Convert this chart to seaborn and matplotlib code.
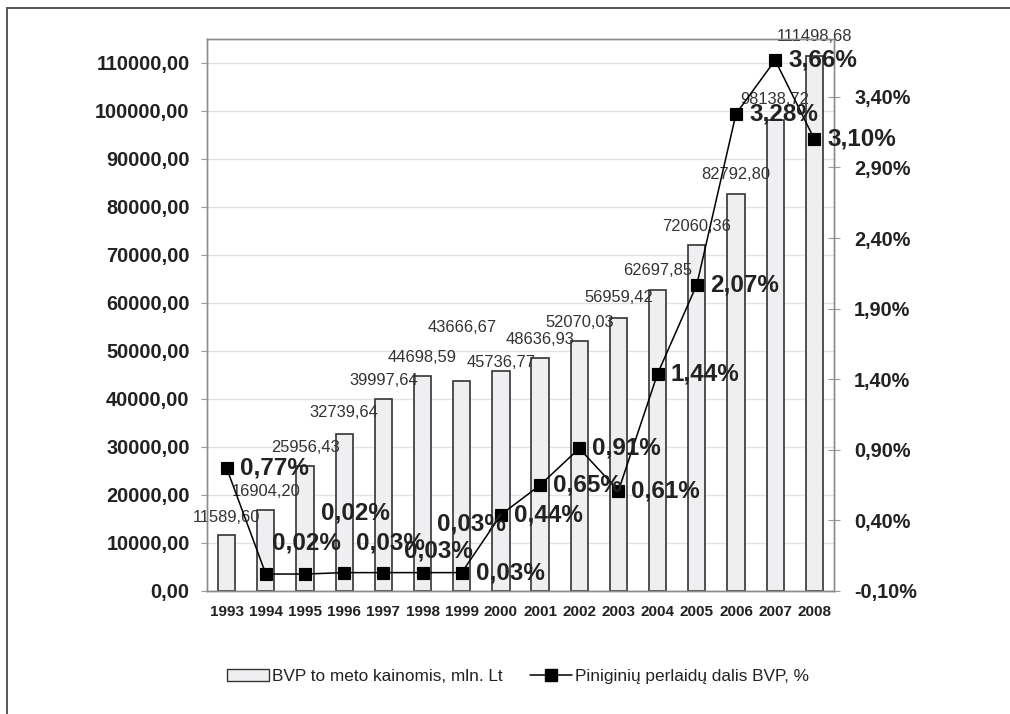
import numpy as np
import pandas as pd
import matplotlib
matplotlib.use("Agg")
import matplotlib.pyplot as plt
from matplotlib import font_manager
from matplotlib.patches import Patch
from matplotlib.lines import Line2D
from matplotlib.ticker import FuncFormatter, FixedLocator
import seaborn as sns

# data
years = [str(y) for y in range(1993, 2009)]
bvp = [11589.60, 16904.20, 25956.43, 32739.64, 39997.64, 44698.59, 43666.67,
       45736.77, 48636.93, 52070.03, 56959.42, 62697.85, 72060.36, 82792.80,
       98138.72, 111498.68]
share = [0.77, 0.02, 0.02, 0.03, 0.03, 0.03, 0.03, 0.44, 0.65, 0.91, 0.61,
         1.44, 2.07, 3.28, 3.66, 3.10]
bar_name = "BVP to meto kainomis, mln. Lt"
line_name = "Piniginių perlaidų dalis BVP, %"

# label placement (pixels), hand-tuned like the original
bar_lab_dy = [18, 18, 19, 21, 18, 19, 54, 9, 18, 19, 20, 20, 19, 19, 20, 19]
pct_lab_dx = [13, 6, 16, 12, 21, 14, 14, 13, 13, 13, 13, 13, 13, 13, 13, 13]
pct_lab_dy = [0, 31, 61, 30, 22, 49, 0, 0, 0, 0, 0, 0, 0, 0, 0, 0]

df = pd.DataFrame({"year": years, "bvp": bvp, "share": share})

sns.set_style("white")
plt.rcParams["font.family"] = ["Liberation Sans", "DejaVu Sans"]

# year labels use a narrow face when one is installed
names = {f.name for f in font_manager.fontManager.ttflist}
narrow_fam = next((n for n in ["Liberation Sans Narrow", "Arial Narrow"] if n in names), None)
if narrow_fam:
    year_fam, year_size = narrow_fam, 13.4
else:
    year_fam, year_size = "Liberation Sans", 11.0

fig = plt.figure(figsize=(10.10, 7.14), dpi=100)
ax = fig.add_axes([0.205, 0.1723, 0.6207, 0.7731])

sns.barplot(data=df, x="year", y="bvp", ax=ax, color="#efeff1",
            edgecolor="#333333", linewidth=1.2, width=0.44, saturation=1)
ax.set_ylim(0, 115000)
ax.set_xlim(-0.5, 15.5)
ax.yaxis.set_major_locator(FixedLocator(np.arange(0, 110001, 10000)))
ax.yaxis.set_major_formatter(FuncFormatter(lambda v, p: f"{v:.2f}".replace(".", ",")))
ax.yaxis.grid(True, color="#e2e2e2", lw=1)
ax.set_axisbelow(True)
ax.set_xlabel("")
ax.set_ylabel("")
for lab in ax.get_yticklabels():
    lab.set_fontsize(14.4)
    lab.set_fontweight("bold")
    lab.set_color("#222222")
ax.tick_params(axis="y", which="major", length=4.5, color="#999999", pad=8)
ax.tick_params(axis="x", which="major", length=0, pad=10)
ax.xaxis.set_minor_locator(FixedLocator(np.arange(-0.5, 15.6, 1)))
ax.tick_params(axis="x", which="minor", length=5, color="#999999", direction="out")
for lab in ax.get_xticklabels():
    lab.set_family(year_fam)
    lab.set_fontsize(year_size)
    lab.set_fontweight("bold")
    lab.set_color("#222222")
for s in ax.spines.values():
    s.set_color("#8c8c8c")
    s.set_linewidth(1)

# bar value labels
for i, v in enumerate(bvp):
    ax.annotate(f"{v:.2f}".replace(".", ","), xy=(i, v), xytext=(0, bar_lab_dy[i]),
                textcoords="offset pixels", ha="center", va="center",
                fontsize=11.9, color="#333333")

ax2 = ax.twinx()
sns.pointplot(data=df, x="year", y="share", ax=ax2, color="black", markers="s",
              markersize=8, linewidth=1.1)
ax2.set_ylim(-0.1, 3.81)
ax2.set_xlim(-0.5, 15.5)
ax2.yaxis.set_major_locator(FixedLocator(np.arange(-0.1, 3.41, 0.5)))
ax2.yaxis.set_major_formatter(FuncFormatter(lambda v, p: f"{v:.2f}%".replace(".", ",")))
ax2.set_ylabel("")
ax2.set_xlabel("")
for lab in ax2.get_yticklabels():
    lab.set_fontsize(14.3)
    lab.set_fontweight("bold")
    lab.set_color("#222222")
ax2.tick_params(axis="y", length=9, direction="inout", color="#999999", pad=10)
for s in ax2.spines.values():
    s.set_color("#8c8c8c")
    s.set_linewidth(1)

for i, v in enumerate(share):
    ax2.annotate(f"{v:.2f}%".replace(".", ","), xy=(i, v),
                 xytext=(pct_lab_dx[i], pct_lab_dy[i]), textcoords="offset pixels",
                 ha="left", va="center", fontsize=17.5, fontweight="bold",
                 color="#222222")

handles = [Patch(facecolor="#efeff1", edgecolor="#333333", linewidth=1),
           Line2D([0], [0], color="black", lw=1.1, marker="s", markersize=8)]
fig.legend(handles, [bar_name, line_name], loc="center",
           bbox_to_anchor=(0.513, 0.053), ncol=2, frameon=False, fontsize=12.4,
           handlelength=2.4, handletextpad=0.2, columnspacing=1.6,
           labelcolor="#222222")

# outer frame (left and top edges visible)
fig.add_artist(Line2D([0.007, 0.007], [0, 0.989], transform=fig.transFigure,
                      color="#555555", lw=1.4))
fig.add_artist(Line2D([0.007, 1.0], [0.989, 0.989], transform=fig.transFigure,
                      color="#555555", lw=1.4))

fig.savefig("out.png", dpi=100)
